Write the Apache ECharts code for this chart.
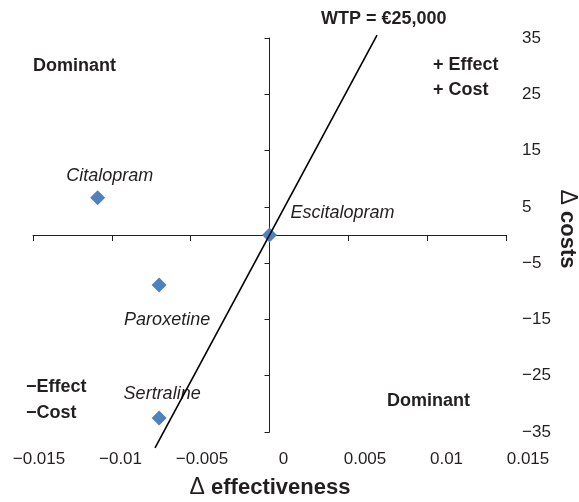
<!DOCTYPE html>
<html><head><meta charset="utf-8">
<script src="https://cdn.jsdelivr.net/npm/echarts@6/dist/echarts.min.js"></script>
<style>html,body{margin:0;padding:0;background:#fff}#c{width:579px;height:502px}</style>
</head><body><div id="c"></div>
<script>
// ---- data ----
const drugNames = ['Citalopram', 'Escitalopram', 'Paroxetine', 'Sertraline'];
const deltaEffect = [-0.0109, 0, -0.0070, -0.0070];
const deltaCost = [6.6, 0, -8.9, -32.5];
const wtpLineEffect = [-0.00726, 0.00682];
const wtpLineCost = [-37.8, 35.5];
const xTickValues = [-0.015, -0.01, -0.005, 0, 0.005, 0.01, 0.015];
const yTickValues = [-35, -25, -15, -5, 5, 15, 25, 35];
const wtpTitle = 'WTP = \u20AC25,000';
const xAxisTitle = 'effectiveness';
const yAxisTitle = 'costs';

// ---- presentation ----
const FONT = '"Liberation Sans", Arial, Helvetica, sans-serif';
const INK = '#231F20';
const fmt = v => (v < 0 ? '\u2212' : '') + String(Math.abs(v));
const labelOffsets = {
  Citalopram: [12, -22],
  Escitalopram: [73, -22],
  Paroxetine: [8, 35],
  Sertraline: [3, -24]
};

const scatterData = drugNames.map((n, i) => ({
  name: n,
  value: [deltaEffect[i], deltaCost[i]],
  label: { offset: labelOffsets[n] }
}));
const lineData = wtpLineEffect.map((x, i) => [x, wtpLineCost[i]]);

function txt(x, y, text, opts) {
  return {
    type: 'text', x: x, y: y, silent: true,
    style: Object.assign({
      text: text, fill: INK, fontFamily: FONT, fontSize: 18, fontWeight: 'bold',
      align: 'left', verticalAlign: 'middle'
    }, opts || {})
  };
}
const deltaRich = { d: { fontFamily: FONT, fontSize: 23, fontWeight: 'normal', fill: INK, color: INK } };

const chart = echarts.init(document.getElementById('c'), null, { renderer: 'canvas' });
chart.setOption({
  animation: false,
  backgroundColor: '#fff',
  grid: [
    { left: 33, right: 73, top: 38, bottom: 70 },
    { left: 39, right: 51, top: 38, bottom: 70 }
  ],
  xAxis: [
    {
      gridIndex: 0, type: 'value', min: -0.015, max: 0.015,
      axisLine: { show: true, onZero: true, lineStyle: { color: INK, width: 1 } },
      axisTick: { show: true, length: 6, customValues: xTickValues, lineStyle: { color: INK, width: 1 } },
      axisLabel: { show: false }, splitLine: { show: false }
    },
    {
      gridIndex: 1, type: 'value', min: -0.015, max: 0.015, position: 'bottom',
      axisLine: { show: false }, axisTick: { show: false }, splitLine: { show: false },
      axisLabel: {
        customValues: xTickValues, formatter: fmt, margin: 19,
        fontFamily: FONT, fontSize: 17, color: INK
      }
    }
  ],
  yAxis: [
    {
      gridIndex: 0, type: 'value', min: -35, max: 35,
      axisLine: { show: true, onZero: true, lineStyle: { color: INK, width: 1 } },
      axisTick: { show: true, length: 5, customValues: yTickValues, lineStyle: { color: INK, width: 1 } },
      axisLabel: { show: false }, splitLine: { show: false }
    },
    {
      gridIndex: 1, type: 'value', min: -35, max: 35, position: 'right',
      axisLine: { show: false }, axisTick: { show: false }, splitLine: { show: false },
      axisLabel: {
        customValues: yTickValues, formatter: fmt, margin: -6, align: 'left',
        fontFamily: FONT, fontSize: 17, color: INK
      }
    }
  ],
  series: [
    {
      type: 'scatter', xAxisIndex: 0, yAxisIndex: 0, z: 2,
      symbol: 'diamond', symbolSize: 15,
      itemStyle: { color: '#4F81BD', opacity: 1 },
      label: {
        show: true, position: 'inside', formatter: '{b}',
        fontFamily: FONT, fontSize: 18, fontStyle: 'italic', color: INK, opacity: 1,
        align: 'center', verticalAlign: 'middle'
      },
      data: scatterData
    },
    {
      type: 'line', xAxisIndex: 0, yAxisIndex: 0, z: 3,
      showSymbol: false, symbol: 'none', clip: false,
      lineStyle: { color: '#000', width: 1.6 },
      data: lineData
    }
  ],
  graphic: [
    txt(321, 19, wtpTitle),
    txt(33, 66, 'Dominant'),
    txt(433, 65, '+ Effect'),
    txt(433, 90, '+ Cost'),
    txt(387, 401, 'Dominant'),
    txt(26, 387, '\u2212Effect'),
    txt(26, 413, '\u2212Cost'),
    txt(270, 488, '{d|\u0394} ' + xAxisTitle, { fontSize: 22, align: 'center', rich: deltaRich }),
    Object.assign(txt(567, 229, '{d|\u0394} ' + yAxisTitle, { fontSize: 22, align: 'center', rich: deltaRich }), { rotation: -Math.PI / 2 })
  ]
});
</script>
</body></html>
